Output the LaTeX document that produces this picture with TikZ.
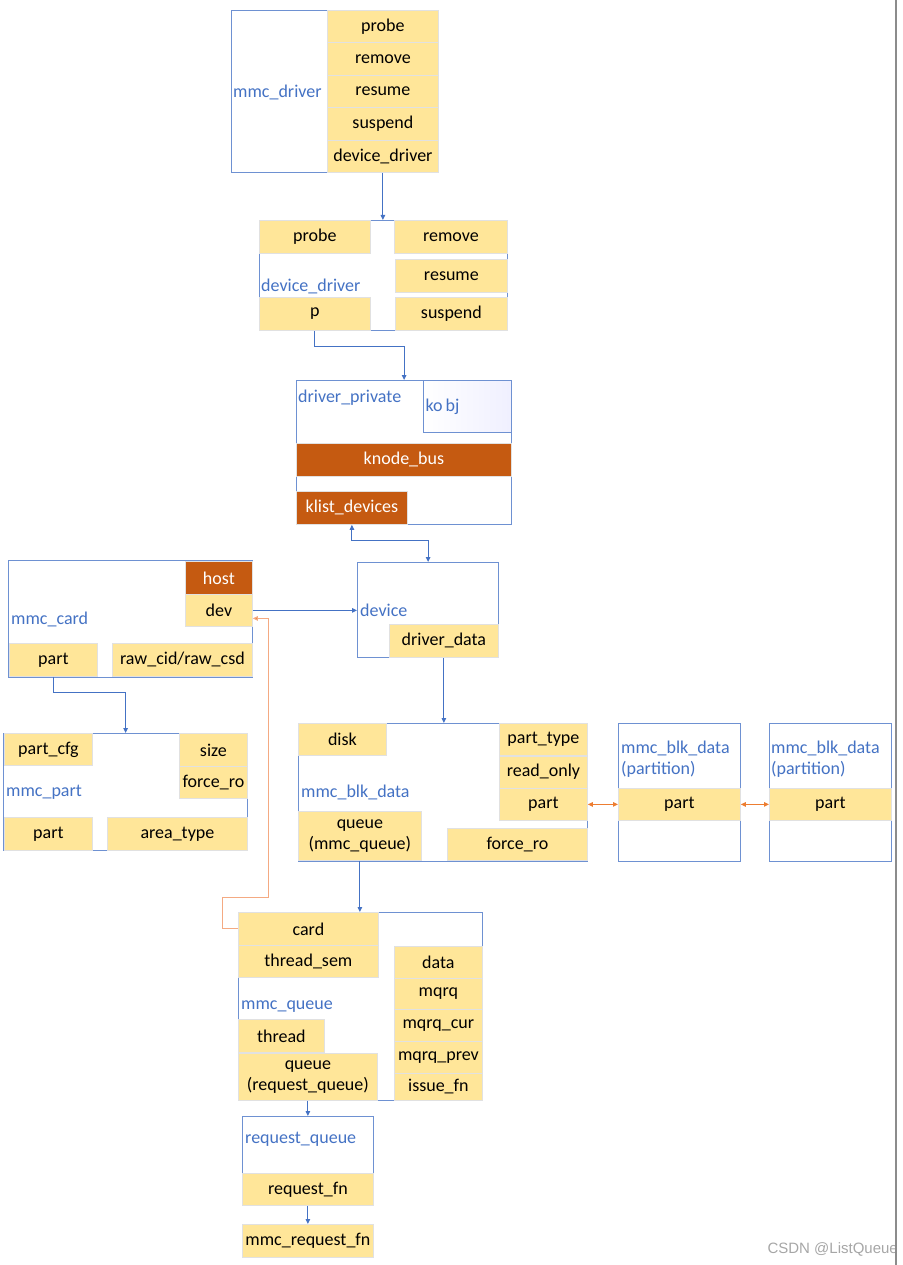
\documentclass[tikz,border=0pt]{standalone}
\usepackage{fontspec}
\setmainfont{Carlito}
\setsansfont{Liberation Sans}
\usepackage{tikz}
\usetikzlibrary{arrows.meta}
\definecolor{structblue}{RGB}{110,145,210}
\definecolor{lblblue}{RGB}{68,114,196}
\definecolor{fldyellow}{RGB}{255,230,153}
\definecolor{fldedge}{RGB}{225,225,225}
\definecolor{darkorange}{RGB}{197,90,17}
\definecolor{linkorange}{RGB}{237,125,49}
\definecolor{lightorange}{RGB}{244,170,130}

\begin{document}
\begin{tikzpicture}[x=1pt,y=-1pt,
	font=\fontsize{18}{21}\selectfont,
	>={Triangle[length=5pt,width=4.5pt]},
	struct/.style={draw=structblue,line width=1.2pt,fill=white,anchor=north west,inner sep=0pt},
	fld/.style={draw=fldedge,line width=0.8pt,fill=fldyellow,anchor=north west,inner sep=0pt,align=center},
	hot/.style={fld,fill=darkorange,text=white},
	lbl/.style={anchor=west,inner sep=0pt,text=lblblue,align=left},
	link/.style={draw=lblblue,line width=1pt,->},
	]
	\useasboundingbox (0,0) rectangle (902,1265);

	% mmc_driver
	\node[struct, minimum width=207, minimum height=162] at (231,10) (mmcdrv) {};
	\node[lbl] at (233,92) (mmcdrvlbl) {mmc\_driver};
	\node[fld, minimum width=111, minimum height=32.4] at (327,10) (drvprobe) {probe};
	\node[fld, minimum width=111, minimum height=32.4] at (327,42.4) (drvremove) {remove};
	\node[fld, minimum width=111, minimum height=32.4] at (327,74.8) (drvresume) {resume};
	\node[fld, minimum width=111, minimum height=32.4] at (327,107.2) (drvsuspend) {suspend};
	\node[fld, minimum width=111, minimum height=32.4] at (327,139.6) (drvdd) {device\_driver};

	% device_driver
	\node[struct, minimum width=248, minimum height=110] at (259,220) (dd) {};
	\node[lbl] at (261,286) (ddlbl) {device\_driver};
	\node[fld, minimum width=111, minimum height=33] at (259,220) (ddprobe) {probe};
	\node[fld, minimum width=113, minimum height=33] at (394,220) (ddremove) {remove};
	\node[fld, minimum width=112, minimum height=33] at (395,259) (ddresume) {resume};
	\node[fld, minimum width=112, minimum height=33] at (395,297) (ddsuspend) {suspend};
	\node[fld, minimum width=111, minimum height=33] at (259,297) (ddp) {p};

	% driver_private
	\node[struct, minimum width=215, minimum height=144] at (296,380) (dp) {};
	\node[lbl] at (298,398) (dplbl) {driver\_private};
	\node[struct, line width=1pt, left color=white, right color=blue!6, minimum width=88, minimum height=52,
		text width=84pt, inner xsep=2pt, align=left, text=lblblue] at (423,380) (kobj) {ko\hspace{3pt}bj};
	\node[hot, minimum width=215, minimum height=33] at (296,443) (knode) {knode\_bus};
	\node[hot, minimum width=111, minimum height=33] at (296,491) (klist) {klist\_devices};

	% mmc_card
	\node[struct, minimum width=244, minimum height=117] at (8,560) (card) {};
	\node[lbl] at (11,619) (cardlbl) {mmc\_card};
	\node[hot, minimum width=67, minimum height=33] at (185,561) (host) {host};
	\node[fld, minimum width=67, minimum height=32] at (185,594) (dev) {dev};
	\node[fld, minimum width=88, minimum height=33] at (9,643) (cardpart) {part};
	\node[fld, minimum width=140, minimum height=33] at (112,643) (rawcid) {raw\_cid/raw\_csd};

	% mmc_part
	\node[struct, minimum width=244, minimum height=117] at (3,733) (mpart) {};
	\node[lbl] at (6,792) (mpartlbl) {mmc\_part};
	\node[fld, minimum width=88, minimum height=32] at (4,733) (partcfg) {part\_cfg};
	\node[fld, minimum width=68, minimum height=33] at (179,733) (psize) {size};
	\node[fld, minimum width=68, minimum height=32] at (179,766) (pforce) {force\_ro};
	\node[fld, minimum width=88, minimum height=33] at (4,817) (ppart) {part};
	\node[fld, minimum width=140, minimum height=33] at (107,817) (parea) {area\_type};

	% device
	\node[struct, minimum width=141, minimum height=95] at (357,562) (device) {};
	\node[lbl] at (360,610) (devicelbl) {device};
	\node[fld, minimum width=109, minimum height=33] at (389,624) (drvdata) {driver\_data};

	% mmc_blk_data
	\node[struct, minimum width=289, minimum height=138] at (298,723) (blk) {};
	\node[lbl] at (301,792) (blklbl) {mmc\_blk\_data};
	\node[fld, minimum width=88, minimum height=32] at (298,723) (blkdisk) {disk};
	\node[fld, minimum width=88, minimum height=32] at (499,723) (blktype) {part\_type};
	\node[fld, minimum width=88, minimum height=32] at (499,755.5) (blkro) {read\_only};
	\node[fld, minimum width=88, minimum height=32] at (499,788) (blkpart) {part};
	\node[fld, minimum width=140, minimum height=32] at (447,828) (blkforce) {force\_ro};
	\node[fld, minimum width=123, minimum height=49] at (298,811) (blkq) {queue\\(mmc\_queue)};

	% mmc_blk_data (partition)
	\node[struct, minimum width=122, minimum height=138] at (618,723) (pt1) {};
	\node[lbl] at (621,759) (pt1lbl) {mmc\_blk\_data\\(partition)};
	\node[fld, minimum width=122, minimum height=32] at (618,788) (pt1part) {part};
	\node[struct, minimum width=122, minimum height=138] at (769,723) (pt2) {};
	\node[lbl] at (771,759) (pt2lbl) {mmc\_blk\_data\\(partition)};
	\node[fld, minimum width=122, minimum height=32] at (769,788) (pt2part) {part};

	% mmc_queue
	\node[struct, minimum width=244, minimum height=188] at (238,912) (mq) {};
	\node[lbl] at (241,1007) (mqlbl) {mmc\_queue};
	\node[fld, minimum width=140, minimum height=33] at (238,912) (mqcard) {card};
	\node[fld, minimum width=140, minimum height=32] at (238,945) (mqsem) {thread\_sem};
	\node[fld, minimum width=86, minimum height=33] at (238,1019) (mqthread) {thread};
	\node[fld, minimum width=139, minimum height=47] at (238,1053) (mqq) {queue\\(request\_queue)};
	\node[fld, minimum width=88, minimum height=31.5] at (394,946) (mqdata) {data};
	\node[fld, minimum width=88, minimum height=31.5] at (394,977.5) (mqrq) {mqrq};
	\node[fld, minimum width=88, minimum height=32] at (394,1009) (mqcur) {mqrq\_cur};
	\node[fld, minimum width=88, minimum height=32] at (394,1041) (mqprev) {mqrq\_prev};
	\node[fld, minimum width=88, minimum height=27] at (394,1073) (mqissue) {issue\_fn};

	% request_queue
	\node[struct, minimum width=131, minimum height=89] at (242,1116) (rq) {};
	\node[lbl] at (245,1139) (rqlbl) {request\_queue};
	\node[fld, minimum width=131, minimum height=32] at (242,1173) (rqfn) {request\_fn};
	\node[fld, minimum width=131, minimum height=33] at (242,1224) (mrqfn) {mmc\_request\_fn};

	\node[anchor=east, inner sep=0pt, text=black!35, font=\sffamily\fontsize{15}{18}\selectfont] at (898,1249) (wmark) {CSDN @ListQueue};

	% links
	\draw[link] (drvdd.south) -- (drvdd.south |- dd.north);
	\draw[link] (ddp.south) -- ++(0,16) -| (dp.north);
	\draw[link, <->] (klist.south) -- ++(0,16) -| (device.north);
	\draw[link] (dev.east) -- (dev.east -| device.west);
	\draw[link] (drvdata.south) -- (drvdata.south |- blk.north);
	\draw[link] (cardpart.south) -- ++(0,16) -| (mpart.north);
	\draw[link] (blkq.south) -- (blkq.south |- mq.north);
	\draw[link] (mqq.south) -- (mqq.south |- rq.north);
	\draw[link] (rqfn.south) -- (mrqfn.north);
	\coordinate (cardturn) at (222,897);
	\draw[link, draw=lightorange, -{Triangle[length=5pt,width=4.5pt,fill=linkorange]}] (mqcard.west) -| (cardturn) -- ++(46,0) |- ([yshift=-8pt]dev.east);
	\draw[link, draw=linkorange, <->] (blkpart.east) -- (pt1part.west);
	\draw[link, draw=linkorange, <->] (pt1part.east) -- (pt2part.west);

	\draw[black!45, line width=1.5pt] (896,0) -- (896,1265);
\end{tikzpicture}
\end{document}
